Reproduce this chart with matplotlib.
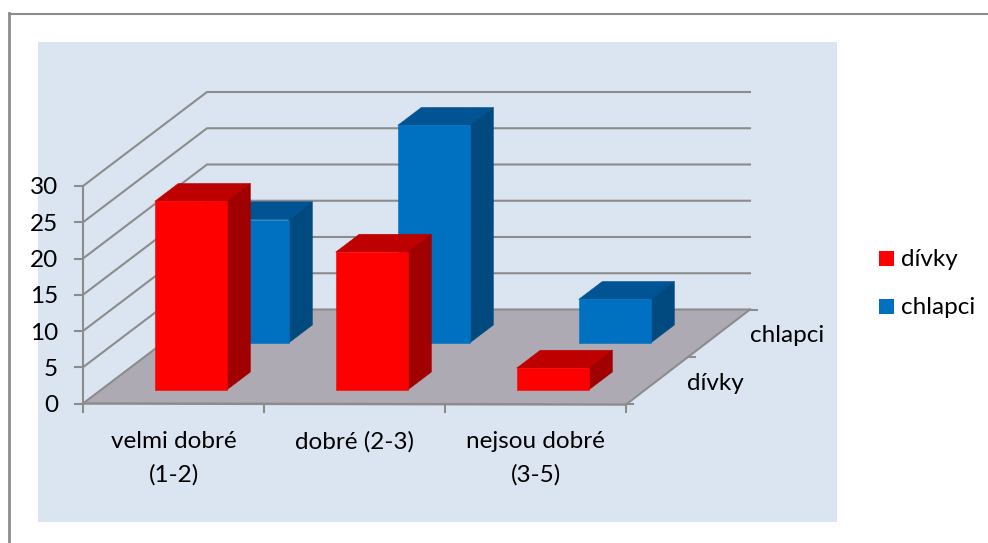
import matplotlib
matplotlib.use("Agg")
from matplotlib import pyplot as plt
from matplotlib.patches import Polygon, Rectangle

categories = ["velmi dobré\n(1-2)", "dobré (2-3)", "nejsou dobré\n(3-5)"]
series_names = ["dívky", "chlapci"]
divky = [26, 19, 3]
chlapci = [17, 30, 6]
y_ticks = [0, 5, 10, 15, 20, 25, 30]

# colours: front, top, side
RED = ("#FF0000", "#BE0000", "#A00000")
BLUE = ("#0070C0", "#005494", "#004A80")
GRID = "#8C8C8C"
FLOOR = "#AEAAB4"
PANEL = "#DBE5F1"
FONT = ["Lato", "DejaVu Sans"]
FS = 17.5

# oblique projection, all in pixels of the picture
X0, Y0 = 83, 403.5
CAT_W = 181
DEPTH_X, DEPTH_Y = 124, -94
UNIT = 217.5 / 30


def proj(c, d, v):
    """category position, depth (0-1), value -> pixel"""
    return (X0 + CAT_W * c + DEPTH_X * d, Y0 + DEPTH_Y * d - UNIT * v)


def draw_bar(ax, i, s, value, colors):
    c0, c1 = i + 0.297, i + 0.695
    d0, d1 = 0.145 + s * 0.5, 0.335 + s * 0.5
    faces = [
        ([proj(c0, d0, value), proj(c1, d0, value), proj(c1, d1, value), proj(c0, d1, value)], colors[1]),
        ([proj(c1, d0, 0), proj(c1, d1, 0), proj(c1, d1, value), proj(c1, d0, value)], colors[2]),
        ([proj(c0, d0, 0), proj(c1, d0, 0), proj(c1, d0, value), proj(c0, d0, value)], colors[0]),
    ]
    for pts, col in faces:
        ax.add_patch(Polygon(pts, closed=True, facecolor=col, edgecolor=col, lw=0.4, zorder=3))


def main():
    fig = plt.figure(figsize=(9.88, 5.43), dpi=100)
    ax = fig.add_axes([0, 0, 1, 1])
    ax.set_xlim(0, 988)
    ax.set_ylim(543, 0)
    ax.axis("off")

    # outer border and panel
    ax.plot([9, 988], [13.5, 13.5], color=GRID, lw=1.5, zorder=1)
    ax.plot([9, 9], [13, 543], color=GRID, lw=2.0, zorder=1)
    ax.add_patch(Rectangle((38, 42), 799, 480, facecolor=PANEL, edgecolor="none", zorder=0))

    # floor
    n = len(categories)
    floor = [proj(0, 0, 0), proj(n, 0, 0), proj(n, 1, 0), proj(0, 1, 0)]
    ax.add_patch(Polygon(floor, closed=True, facecolor=FLOOR, edgecolor="none", zorder=1))

    # gridlines along left and back wall
    for v in y_ticks:
        a, b, c = proj(0, 0, v), proj(0, 1, v), proj(n, 1, v)
        ax.plot([a[0], b[0], c[0]], [a[1], b[1], c[1]], color=GRID, lw=1.5, zorder=2)
        ax.plot([a[0] - 8, a[0]], [a[1], a[1]], color=GRID, lw=1.5, zorder=2)
        ax.text(58, a[1] + 2, str(v), ha="right", va="center", fontsize=FS, family=FONT, color="black")

    # axes
    top = proj(0, 0, y_ticks[-1])
    ax.plot([X0, top[0]], [Y0, top[1]], color=GRID, lw=1.5, zorder=4)
    a, b = proj(0, 0, 0), proj(n, 0, 0)
    ax.plot([a[0], b[0]], [a[1], b[1] + 1], color=GRID, lw=1.8, zorder=4)
    c = proj(n, 1, 0)
    ax.plot([b[0], c[0]], [b[1] + 1, c[1]], color=GRID, lw=1.5, zorder=2)
    for i in range(n + 1):
        x, y = proj(i, 0, 0)
        ax.plot([x, x], [y, y + 8], color=GRID, lw=1.5, zorder=4)
    for d in [0, 0.5, 1]:
        x, y = proj(n, d, 0)
        ax.plot([x, x + 7], [y, y], color=GRID, lw=1.5, zorder=2)

    # bars, back row first
    for i, v in enumerate(chlapci):
        draw_bar(ax, i, 1, v, BLUE)
    for i, v in enumerate(divky):
        draw_bar(ax, i, 0, v, RED)

    # category labels
    for i, label in enumerate(categories):
        for line, y in zip(label.split("\n"), [442, 475]):
            ax.text(X0 + CAT_W * (i + 0.5), y, line, ha="center", va="center",
                    fontsize=FS, family=FONT, color="black")

    # depth axis labels
    ax.text(687, 384, series_names[0], ha="left", va="center", fontsize=FS, family=FONT, color="black")
    ax.text(750, 336, series_names[1], ha="left", va="center", fontsize=FS, family=FONT, color="black")

    # legend
    for name, col, y in zip(series_names, [RED[0], BLUE[0]], [251, 299]):
        ax.add_patch(Rectangle((879, y), 15, 15, facecolor=col, edgecolor="none", zorder=3))
        ax.text(901, y + 8, name, ha="left", va="center", fontsize=FS, family=FONT, color="black")

    fig.savefig("out.png", dpi=100)


if __name__ == "__main__":
    main()
